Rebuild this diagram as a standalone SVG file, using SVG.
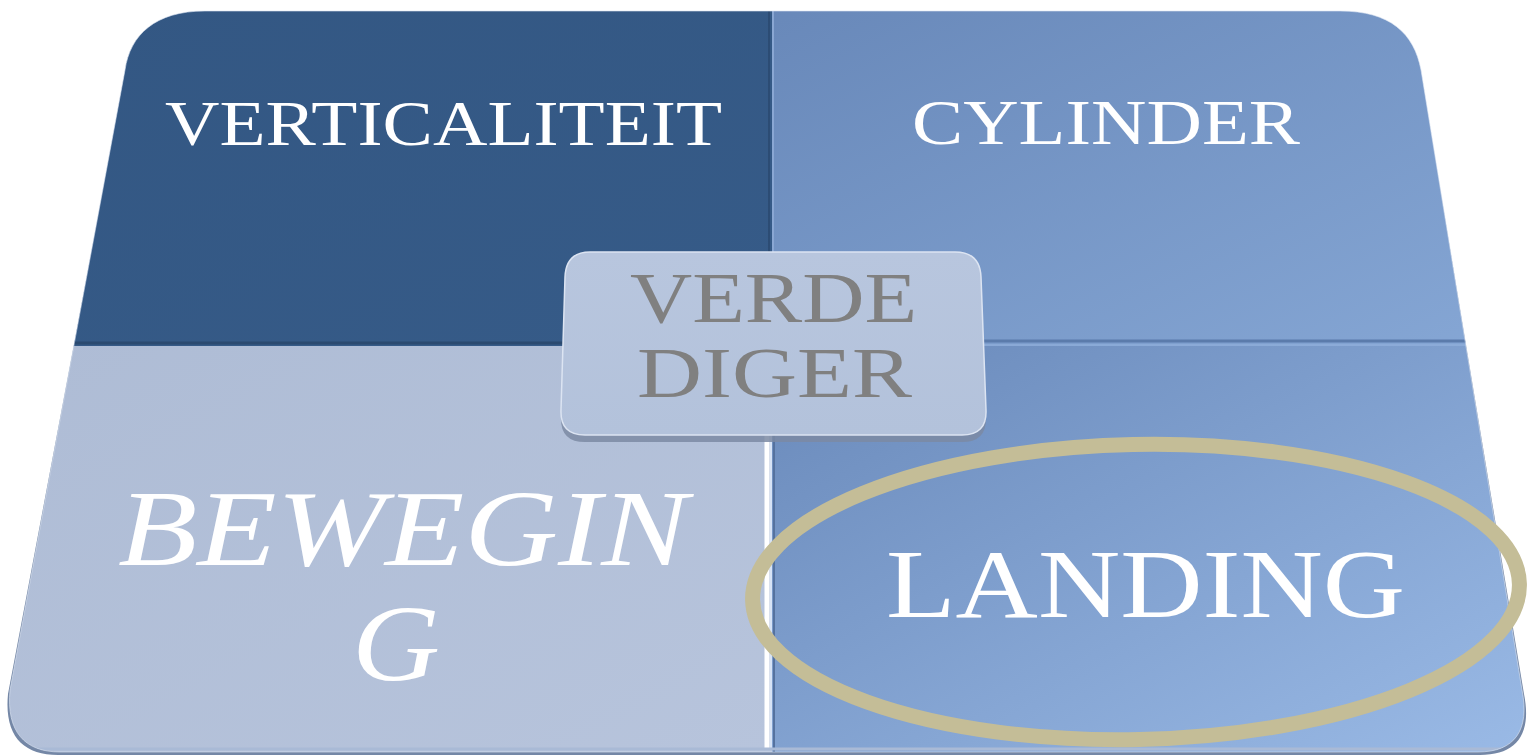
<svg xmlns="http://www.w3.org/2000/svg" width="1528" height="755" viewBox="0 0 1528 755">
  <defs>
    <style>
      .lbl { font-family: "Liberation Serif", "Times New Roman", serif; fill: #ffffff; }
      .ctr { font-family: "Liberation Serif", "Times New Roman", serif; fill: #808080; }
    </style>
    <clipPath id="panelClip">
      <path id="panelShape" d="M 125,70 C 130,35 155,11 205,11 L 1340,11 C 1390,11 1414,33 1421,70 L 1522,690 C 1530,730 1515,752 1478,752 L 60,752 C 25,752 6,732 10,690 Z"/>
    </clipPath>
    <linearGradient id="gTL" x1="0" y1="0" x2="1" y2="1">
      <stop offset="0" stop-color="#335783"/>
      <stop offset="1" stop-color="#365B88"/>
    </linearGradient>
    <linearGradient id="gTR" x1="0" y1="0" x2="1" y2="1">
      <stop offset="0" stop-color="#6888B9"/>
      <stop offset="1" stop-color="#86A7D5"/>
    </linearGradient>
    <linearGradient id="gBL" x1="0" y1="0" x2="1" y2="1">
      <stop offset="0" stop-color="#AEBCD5"/>
      <stop offset="1" stop-color="#B7C4DC"/>
    </linearGradient>
    <linearGradient id="gBR" x1="0" y1="0" x2="1" y2="1">
      <stop offset="0" stop-color="#6989BA"/>
      <stop offset="1" stop-color="#9ABAE6"/>
    </linearGradient>
    <linearGradient id="gC" x1="0" y1="0" x2="0" y2="1">
      <stop offset="0" stop-color="#B8C6DE"/>
      <stop offset="1" stop-color="#B3C2DB"/>
    </linearGradient>
  </defs>

  <!-- panel base / thickness -->
  <g id="panel-base">
    <path d="M 125,74 C 130,39 155,15 205,15 L 1340,15 C 1390,15 1414,37 1421,74 L 1524,694 C 1532,734 1517,755 1480,755 L 58,755 C 23,755 4,736 8,694 Z" fill="#7487A6"/>
  </g>

  <g clip-path="url(#panelClip)">
    <g id="q-verticaliteit">
      <rect x="0" y="0" width="772" height="346" fill="url(#gTL)"/>
    </g>
    <g id="q-cylinder">
      <rect x="772" y="0" width="756" height="346" fill="url(#gTR)"/>
    </g>
    <g id="q-beweging">
      <rect x="0" y="346" width="772" height="409" fill="url(#gBL)"/>
    </g>
    <g id="q-landing">
      <rect x="772" y="346" width="756" height="409" fill="url(#gBR)"/>
    </g>
    <!-- bevel dividers -->
    <g id="dividers">
      <line x1="0" y1="343" x2="772" y2="343" stroke="#2B4A70" stroke-width="3"/>
      <line x1="772" y1="341" x2="1528" y2="341" stroke="#5B7BAB" stroke-width="3"/>
      <line x1="772" y1="345" x2="1528" y2="345" stroke="#8FAEDA" stroke-width="1.5"/>
      <line x1="769" y1="0" x2="769" y2="346" stroke="#2C4C74" stroke-width="2"/>
      <line x1="773" y1="0" x2="773" y2="346" stroke="#8AA7D3" stroke-width="2"/>
      <line x1="767" y1="346" x2="767" y2="750" stroke="#FFFFFF" stroke-width="5"/>
      <line x1="771" y1="346" x2="771" y2="750" stroke="#D7E3F6" stroke-width="2"/>
      <line x1="774" y1="346" x2="774" y2="752" stroke="#55729F" stroke-width="2"/>
      <line x1="0" y1="749" x2="1528" y2="749" stroke="#A9BAD6" stroke-width="3"/>
    </g>
  </g>
  <path d="M 125,70 C 130,35 155,11 205,11 L 1340,11 C 1390,11 1414,33 1421,70 L 1522,690 C 1530,730 1515,752 1478,752 L 60,752 C 25,752 6,732 10,690 Z" fill="none" stroke="#DDE6F4" stroke-width="1" opacity="0.6"/>

  <g id="labels">
    <text class="lbl" x="165" y="145" font-size="64" textLength="557" lengthAdjust="spacingAndGlyphs">VERTICALITEIT</text>
    <text class="lbl" x="912" y="144" font-size="64" textLength="388" lengthAdjust="spacingAndGlyphs">CYLINDER</text>
    <text class="lbl" x="118" y="565" font-size="108" font-style="italic" textLength="570" lengthAdjust="spacingAndGlyphs">BEWEGIN</text>
    <text class="lbl" x="352" y="680" font-size="108" font-style="italic" textLength="88" lengthAdjust="spacingAndGlyphs">G</text>
    <text class="lbl" x="886" y="617" font-size="98" textLength="519" lengthAdjust="spacingAndGlyphs">LANDING</text>
  </g>

  <g id="highlight-ellipse">
    <ellipse cx="1136" cy="592" rx="383.5" ry="147.5" transform="rotate(-1.2 1136 592)" fill="none" stroke="#C4BD97" stroke-width="15"/>
  </g>

  <g id="center-node">
    <path d="M 590,257 L 955,257 Q 980,257 981,282 L 986,417 Q 987,442 962,442 L 585,442 Q 560,442 561,417 L 565,282 Q 566,257 590,257 Z" fill="#7B8AA3" opacity="0.85"/>
    <path d="M 590,252 L 955,252 Q 980,252 981,277 L 986,410 Q 987,435 962,435 L 585,435 Q 560,435 561,410 L 565,277 Q 566,252 590,252 Z" fill="url(#gC)" stroke="#DCE4F2" stroke-width="1.5"/>
    <text class="ctr" x="630" y="322" font-size="71" textLength="287" lengthAdjust="spacingAndGlyphs">VERDE</text>
    <text class="ctr" x="637" y="397" font-size="71" textLength="275" lengthAdjust="spacingAndGlyphs">DIGER</text>
  </g>
</svg>
